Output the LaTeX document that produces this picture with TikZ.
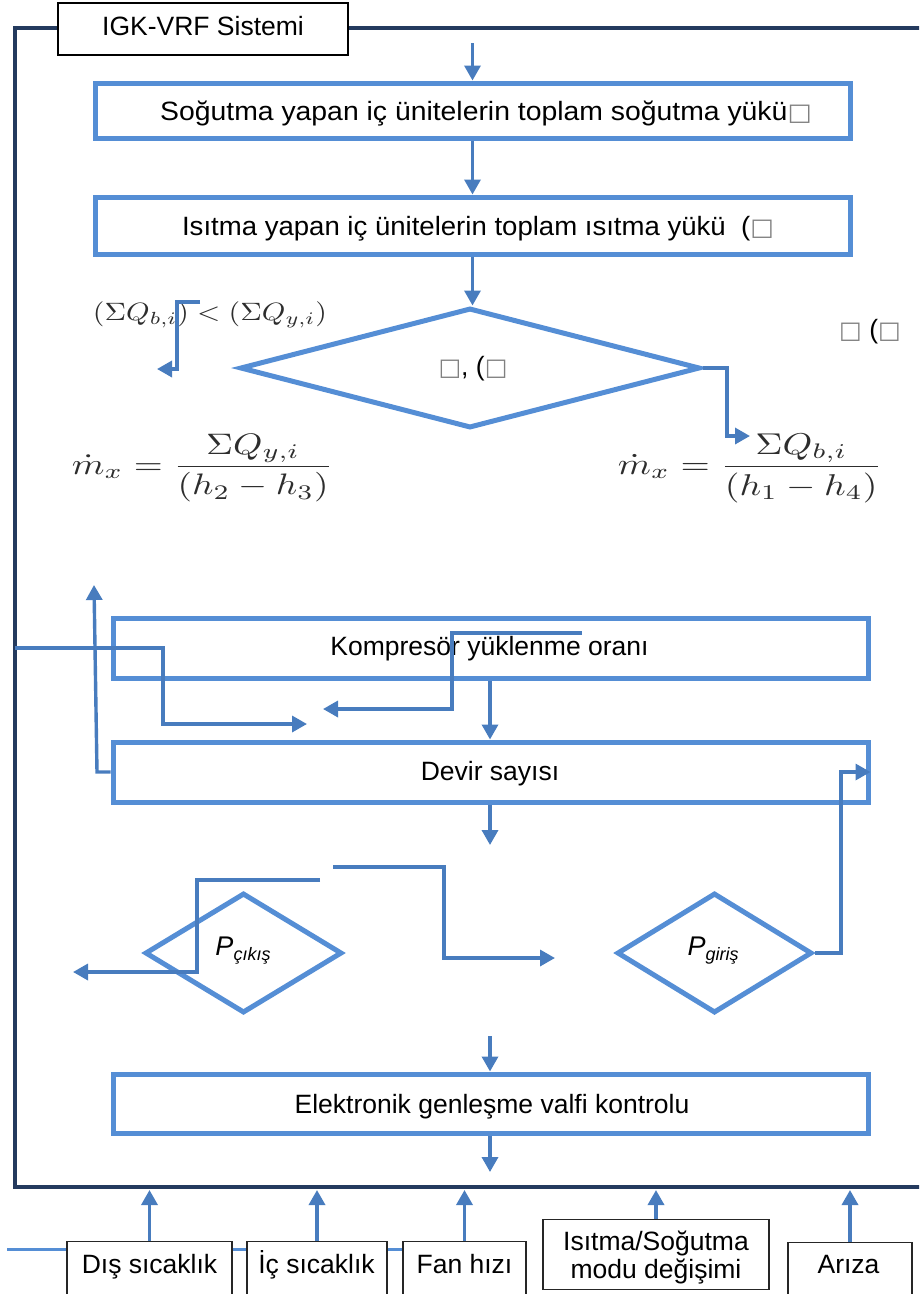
\documentclass[tikz,border=0pt]{standalone}
\usepackage{graphicx}
\usepackage{fontspec}
\setmainfont{Liberation Sans}
\newfontfamily\symfont{DejaVu Sans}
\usetikzlibrary{arrows.meta,shapes.geometric}
\definecolor{boxblue}{RGB}{85,142,213}
\definecolor{arrblue}{RGB}{72,124,190}
\definecolor{framecol}{RGB}{36,58,94}
\definecolor{mathgray}{RGB}{45,45,45}
\newcommand{\bx}{{\color{gray}\symfont\fontsize{24}{26}\selectfont □}}
\begin{document}
\begin{tikzpicture}[x=1pt,y=-1pt,
  proc/.style={draw=boxblue,line width=5pt,minimum width=755pt,inner sep=0pt},
  dia/.style={diamond,draw=boxblue,line width=5pt,inner sep=0pt},
  conn/.style={draw=arrblue,line width=3.4pt},
  arr/.style={conn,-{Triangle[length=15pt,width=16pt]}},
  txt/.style={font=\fontsize{26.5}{30}\selectfont,inner sep=0pt,anchor=base},
  inbox/.style={draw=black!85,line width=1.1pt,fill=white,anchor=north,minimum height=70pt,inner sep=0pt},
  frameline/.style={draw=framecol,line width=4.5pt}
]
\useasboundingbox (0,0) rectangle (919,1294);
\clip (0,0) rectangle (919,1294);

% outer frame
\coordinate (frTR) at (925,28);
\coordinate (frTL) at (15,28);
\coordinate (frBL) at (15,1187);
\coordinate (frBR) at (925,1187);
\draw[frameline] (frTR) -- (frTL) -- (frBL) -- (frBR);

% title
\node[draw=black,line width=1.1pt,fill=white,minimum width=290pt,minimum height=52pt,inner sep=0pt] (title) at (203,29) {};
\node[txt] (titletxt) at (203,35) {IGK-VRF Sistemi};

% main boxes
\node[proc,minimum height=55pt] (b1) at (472.5,110.5) {};
\node[txt] (t1) at (486,120) {\scalebox{1.07}[1]{Soğutma yapan iç ünitelerin toplam soğutma yükü\bx}};
\node[proc,minimum height=57pt] (b2) at (472.5,225.5) {};
\node[txt] (t2) at (478,235) {\scalebox{1.04}[1]{Isıtma yapan iç ünitelerin toplam ısıtma yükü\ \ (\bx}};

\node[dia,minimum width=460pt,minimum height=120pt] (d1) at (470,368) {};
\node[txt] (dt1) at (473,375) {\bx, (\bx};
\node[txt] (tr) at (870,338) {\bx\ (\bx};

% formulas
\node[inner sep=0pt,text=mathgray] (f0) at (210,315) {\resizebox*{234pt}{26pt}{$(\Sigma Q_{b,i}) < (\Sigma Q_{y,i})$}};
\node[inner sep=0pt,text=mathgray] (f1) at (202.5,468) {\resizebox*{261pt}{68pt}{$\displaystyle\dot{m}_x=\frac{\Sigma Q_{y,i}}{(h_2-h_3)}$}};
\node[inner sep=0pt,text=mathgray] (f2) at (750,468) {\resizebox*{264pt}{69pt}{$\displaystyle\dot{m}_x=\frac{\Sigma Q_{b,i}}{(h_1-h_4)}$}};

\node[proc,minimum height=60pt] (b3) at (490.5,648) {};
\node[txt] (t3) at (489.5,655) {Kompresör yüklenme oranı};
\node[proc,minimum height=60pt] (b4) at (490.5,772) {};
\node[txt] (t4) at (490,780) {Devir sayısı};

\node[dia,minimum width=197pt,minimum height=120pt] (d2) at (243.5,953) {};
\node[txt] (dt2) at (243,955) {\fontsize{27}{30}\selectfont\itshape P\raisebox{-5pt}{\fontsize{18}{20}\selectfont çıkış}};
\node[dia,minimum width=195pt,minimum height=120pt] (d3) at (714.5,953) {};
\node[txt] (dt3) at (713,955) {\fontsize{27}{30}\selectfont\itshape P\raisebox{-5pt}{\fontsize{18}{20}\selectfont giriş}};

\node[proc,minimum height=59pt] (b5) at (490.5,1103.5) {};
\node[txt] (t5) at (492,1113) {Elektronik genleşme valfi kontrolu};

% input bus
\coordinate (busL) at (7,1249);
% input boxes
\node[inbox,minimum width=165pt] (in1) at (149.5,1241) {};
\node[inbox,minimum width=140pt] (in2) at (317,1241) {};
\node[inbox,minimum width=123pt] (in3) at (464.5,1241) {};
\node[inbox,minimum width=226pt] (in4) at (656,1219) {};
\node[inbox,minimum width=124pt] (in5) at (850,1242) {};
\draw[draw=boxblue,line width=3pt] (busL) -- (in1.west |- busL);
\draw[draw=boxblue,line width=3pt] (in1.east |- busL) -- (in2.west |- busL);
\draw[draw=boxblue,line width=3pt] (in2.east |- busL) -- (in3.west |- busL);
\node[txt] (it1) at (149.5,1273) {Dış sıcaklık};
\node[txt] (it2) at (316.5,1273) {İç sıcaklık};
\node[txt] (it3) at (464.5,1273) {Fan hızı};
\node[txt,align=center,anchor=center,font=\fontsize{26.5}{28}\selectfont] (it4) at (656,1258) {Isıtma/Soğutma\\modu değişimi};
\node[txt] (it5) at (848.5,1273) {Arıza};

\coordinate (fb) at (0,1190);
\foreach \n in {in1,in2,in3,in4,in5}{
  \draw[arr] (\n.north) -- (\n.north |- fb);
}

% main flow arrows
\coordinate (top0) at (472.5,43);
\draw[arr] (top0) -- (b1.north);
\draw[arr] (b1.south) -- (b2.north);
\draw[arr] (b2.south) -- (d1.north -| b2.south);

% diamond branches
\coordinate (lb0) at (200,302);
\coordinate (lb1) at (177,302);
\coordinate (lb2) at (177,369);
\coordinate (lb3) at (157,369);
\draw[arr] (lb0) -- (lb1) -- (lb2) -- (lb3);
\coordinate (rb1) at (727,368);
\coordinate (rb2) at (750,436);
\draw[arr] (d1.east) -- (rb1) |- (rb2);

% middle tangle
\coordinate (ma0) at (15,648);
\coordinate (ma1) at (163,648);
\coordinate (ma2) at (163,724);
\coordinate (ma3) at (307,724);
\draw[arr] (ma0) -- (ma1) -- (ma2) -- (ma3);
\coordinate (mb0) at (582,633);
\coordinate (mb1) at (452,633);
\coordinate (mb2) at (452,709);
\coordinate (mb3) at (323,709);
\draw[arr] (mb0) -- (mb1) -- (mb2) -- (mb3);
\coordinate (mc1) at (97,772);
\coordinate (mc2) at (94,585);
\draw[arr] (b4.west) -- (mc1) -- (mc2);
\coordinate (md1) at (841,953);
\coordinate (md2) at (841,772);
\draw[arr] (d3.east) -- (md1) -- (md2) -- (b4.east);
\coordinate (x490) at (490,0);
\draw[arr] (b3.south -| x490) -- (b4.north -| x490);
\coordinate (me) at (490,845);
\draw[arr] (b4.south -| x490) -- (me);
\coordinate (mf0) at (333,867);
\coordinate (mf1) at (444,867);
\coordinate (mf2) at (444,958);
\coordinate (mf3) at (555,958);
\draw[arr] (mf0) -- (mf1) -- (mf2) -- (mf3);
\coordinate (mg0) at (320,880);
\coordinate (mg1) at (197,880);
\coordinate (mg2) at (197,972);
\coordinate (mg3) at (73,972);
\draw[arr] (mg0) -- (mg1) -- (mg2) -- (mg3);
\coordinate (mh) at (490,1036);
\draw[arr] (mh) -- (b5.north -| mh);
\coordinate (mi) at (490,1172);
\draw[arr] (b5.south -| mi) -- (mi);
\end{tikzpicture}
\end{document}
